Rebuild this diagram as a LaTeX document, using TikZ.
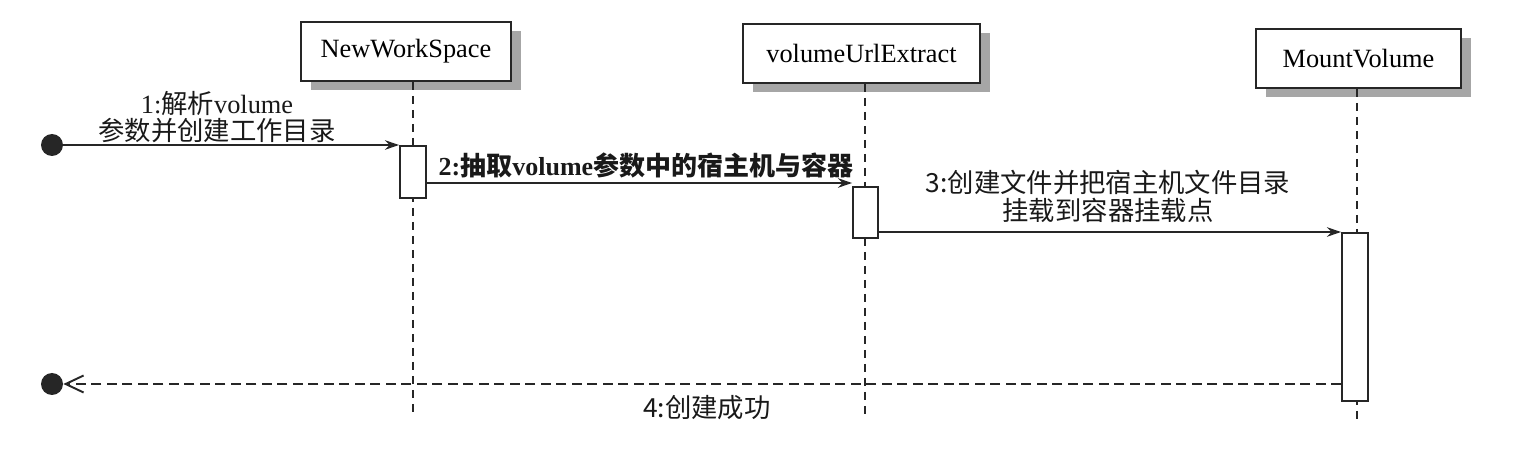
\documentclass[tikz,border=0pt]{standalone}
\usepackage{fontspec}
\setmainfont{Liberation Serif}
\newfontfamily\cjk{Noto Sans CJK SC}
\usetikzlibrary{arrows.meta,shadows}
\begin{document}
\begin{tikzpicture}[x=0.02cm,y=-0.02cm,
  headbox/.style={draw=black!85, line width=1.1pt, fill=white, inner sep=0pt,
    minimum height=1.18cm, font=\fontsize{15}{17}\selectfont,
    drop shadow={shadow xshift=0.2cm, shadow yshift=-0.19cm, fill=black!35, opacity=1}},
  actbox/.style={draw=black!85, line width=1.1pt, fill=white, inner sep=0pt},
  life/.style={draw=black!85, line width=1.1pt, dash pattern=on 0.17cm off 0.11cm},
  dot/.style={circle, fill=black!85, inner sep=0pt, minimum size=0.44cm},
  msg/.style={draw=black!85, line width=1pt, -{Stealth[length=2.8mm,width=1.9mm]}},
  ret/.style={draw=black!85, line width=1.1pt, dash pattern=on 0.2cm off 0.11cm,
    -{Straight Barb[length=3.6mm,width=3.4mm,line width=1.1pt]}},
  lbl/.style={align=center, inner sep=0pt, text=black!90, font=\fontsize{15}{15.8}\selectfont}
]
\useasboundingbox (0,0) rectangle (1516,452);

% header boxes
\node[headbox, minimum width=4.2cm] (B1) at (406,51.5) {NewWorkSpace};
\node[headbox, minimum width=4.74cm] (B2) at (861.5,53.5) {volumeUrlExtract};
\node[headbox, minimum width=4.1cm] (B3) at (1358.5,58.5) {MountVolume};

% lifelines
\coordinate (L1b) at (413,416);
\coordinate (L2b) at (865,416);
\coordinate (L3b) at (1357,422);
\draw[life] (B1.south -| L1b) -- (L1b);
\draw[life] (B2.south -| L2b) -- (L2b);
\draw[life] (B3.south -| L3b) -- (L3b);

% activation boxes
\node[actbox, minimum width=0.52cm, minimum height=1.04cm] (A1) at (413,172) {};
\node[actbox, minimum width=0.5cm, minimum height=1.02cm] (A2) at (865.5,212.5) {};
\node[actbox, minimum width=0.52cm, minimum height=3.36cm] (A3) at (1355,317) {};

% start / end dots
\node[dot] (D1) at (52,145) {};
\node[dot] (D2) at (52,384) {};

% message rows
\coordinate (y2) at (0,183);
\coordinate (y3) at (0,232);

\draw[msg] (D1) -- (D1 -| A1.west);
\draw[msg] (A1.east |- y2) -- (A2.west |- y2);
\draw[msg] (A2.east |- y3) -- (A3.west |- y3);
\draw[ret] (D2 -| A3.west) -- (D2);

% labels
\node[lbl] (T1) at (217,117) {1:{\cjk 解析}volume\\{\cjk 参数并创建工作目录}};
\node[lbl, font=\fontsize{14.8}{16}\selectfont\bfseries] (T2) at (646,165) {2:{\cjk 抽取}volume{\cjk 参数中的宿主机与容器}};
\node[lbl, font=\fontsize{15}{16}\selectfont\cjk] (T3) at (1108,196) {3:创建文件并把宿主机文件目录\\挂载到容器挂载点};
\node[lbl, font=\fontsize{15}{16}\selectfont\cjk] (T4) at (707,408) {4:创建成功};
\end{tikzpicture}
\end{document}
